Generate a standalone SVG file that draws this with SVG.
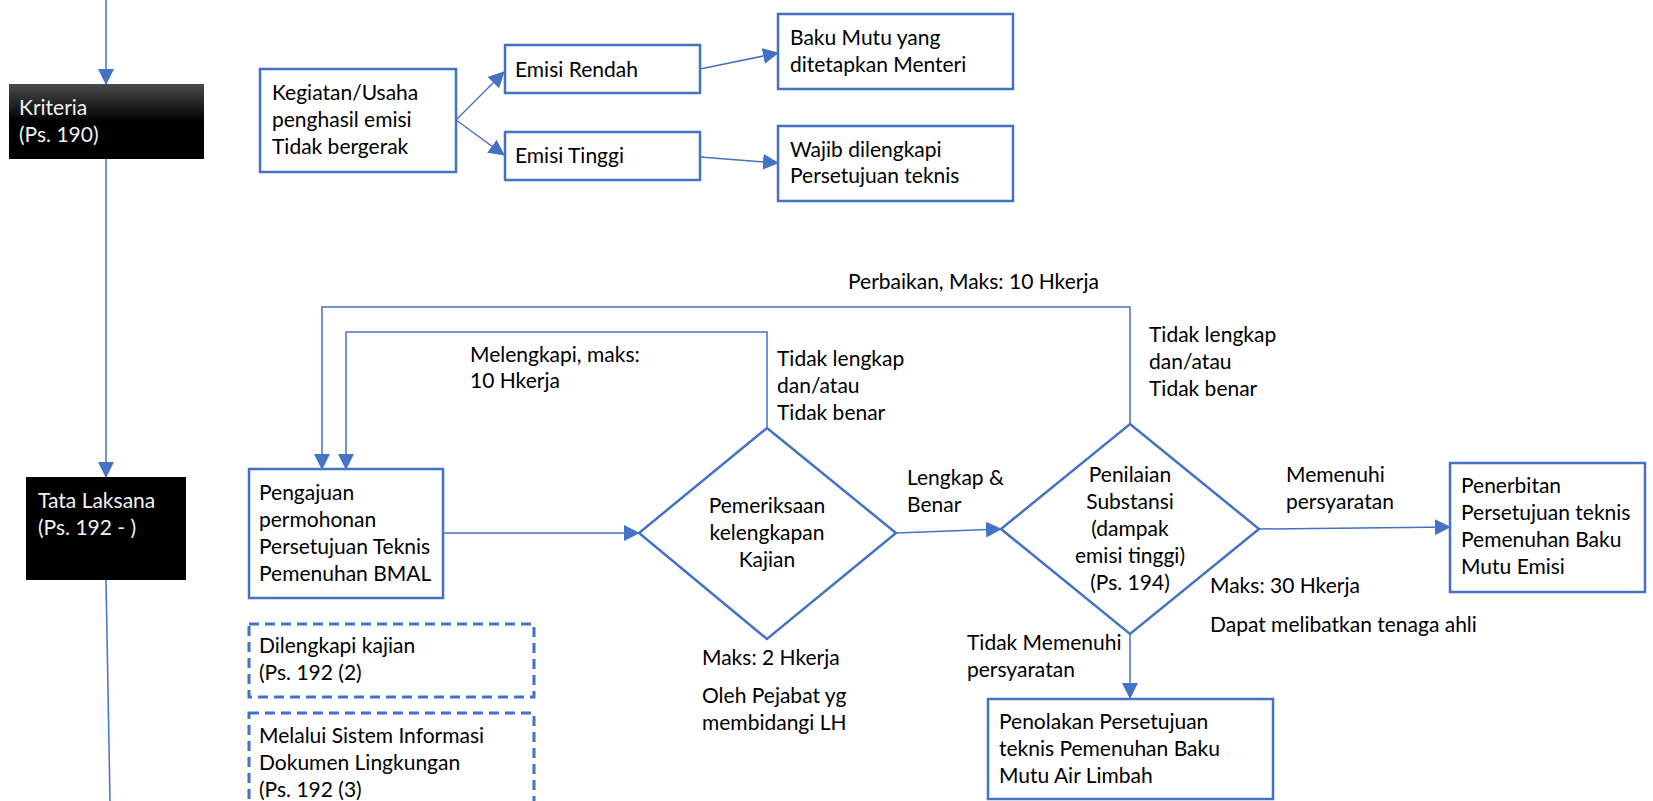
<svg xmlns="http://www.w3.org/2000/svg" width="1653" height="801" viewBox="0 0 1653 801">
<style>
  text { font-family: Lato, "Open Sans", sans-serif; font-size: 21px; fill: #000; }
  .w { fill: #f2f2f2; }
  .mid { text-anchor: middle; }
  .box { fill: #fff; stroke: #4472C4; stroke-width: 2.5; }
  .dash { fill: #fff; stroke: #4472C4; stroke-width: 3; stroke-dasharray: 10 6; }
  .con { fill: none; stroke: #4472C4; stroke-width: 1.5; }
</style>
<defs>
  <marker id="ah" markerUnits="userSpaceOnUse" markerWidth="16" markerHeight="16" viewBox="0 0 16 16" refX="15" refY="8" orient="auto">
    <path d="M0,0 L16,8 L0,16 Z" fill="#4472C4"/>
  </marker>
  <linearGradient id="blk" x1="0" y1="0" x2="0" y2="1">
    <stop offset="0" stop-color="#4a4a4a"/>
    <stop offset="0.5" stop-color="#000"/>
    <stop offset="1" stop-color="#000"/>
  </linearGradient>
</defs>
<rect width="1653" height="801" fill="#fff"/>

<g id="connectors">
  <line class="con" x1="106" y1="0" x2="106" y2="84" marker-end="url(#ah)"/>
  <line class="con" x1="106" y1="158" x2="106" y2="477" marker-end="url(#ah)"/>
  <line class="con" x1="106" y1="580" x2="110" y2="801"/>
  <line class="con" x1="456" y1="120" x2="504" y2="72" marker-end="url(#ah)"/>
  <line class="con" x1="456" y1="120" x2="504" y2="155" marker-end="url(#ah)"/>
  <line class="con" x1="700" y1="69" x2="778" y2="53" marker-end="url(#ah)"/>
  <line class="con" x1="700" y1="157" x2="778" y2="163" marker-end="url(#ah)"/>
  <polyline class="con" points="1130,424 1130,307 322,307 322,469" marker-end="url(#ah)"/>
  <polyline class="con" points="767,428 767,332 346,332 346,469" marker-end="url(#ah)"/>
  <line class="con" x1="443" y1="533" x2="639" y2="533" marker-end="url(#ah)"/>
  <line class="con" x1="896" y1="533" x2="1001" y2="529" marker-end="url(#ah)"/>
  <line class="con" x1="1259" y1="529" x2="1450" y2="527" marker-end="url(#ah)"/>
  <line class="con" x1="1130" y1="634" x2="1130" y2="698" marker-end="url(#ah)"/>
</g>

<g id="kriteria">
  <rect x="9" y="84" width="195" height="75" fill="url(#blk)"/>
  <text class="w" x="19" y="115">Kriteria</text>
  <text class="w" x="19" y="142">(Ps. 190)</text>
</g>
<g id="tata-laksana">
  <rect x="26" y="477" width="160" height="103" fill="#000"/>
  <text class="w" x="38" y="508">Tata Laksana</text>
  <text class="w" x="38" y="535">(Ps. 192 - )</text>
</g>

<g id="kegiatan">
  <rect class="box" x="260" y="69" width="196" height="103"/>
  <text x="272" y="100">Kegiatan/Usaha</text>
  <text x="272" y="127">penghasil emisi</text>
  <text x="272" y="154">Tidak bergerak</text>
</g>
<g id="emisi-rendah">
  <rect class="box" x="505" y="45" width="195" height="48"/>
  <text x="515" y="77">Emisi Rendah</text>
</g>
<g id="emisi-tinggi">
  <rect class="box" x="505" y="132" width="195" height="48"/>
  <text x="515" y="163">Emisi Tinggi</text>
</g>
<g id="baku-mutu">
  <rect class="box" x="778" y="14" width="235" height="75"/>
  <text x="790" y="45">Baku Mutu yang</text>
  <text x="790" y="72">ditetapkan Menteri</text>
</g>
<g id="wajib">
  <rect class="box" x="778" y="126" width="235" height="75"/>
  <text x="790" y="157">Wajib dilengkapi</text>
  <text x="790" y="183">Persetujuan teknis</text>
</g>

<g id="labels">
  <text x="848" y="289">Perbaikan, Maks: 10 Hkerja</text>
  <text x="470" y="362">Melengkapi, maks:</text>
  <text x="470" y="388">10 Hkerja</text>
  <text x="777" y="366">Tidak lengkap</text>
  <text x="777" y="393">dan/atau</text>
  <text x="777" y="420">Tidak benar</text>
  <text x="1149" y="342">Tidak lengkap</text>
  <text x="1149" y="369">dan/atau</text>
  <text x="1149" y="396">Tidak benar</text>
  <text x="907" y="485">Lengkap &amp;</text>
  <text x="907" y="512">Benar</text>
  <text x="1286" y="482">Memenuhi</text>
  <text x="1286" y="509">persyaratan</text>
  <text x="1210" y="593">Maks: 30 Hkerja</text>
  <text x="1210" y="632">Dapat melibatkan tenaga ahli</text>
  <text x="967" y="650">Tidak Memenuhi</text>
  <text x="967" y="677">persyaratan</text>
  <text x="702" y="665">Maks: 2 Hkerja</text>
  <text x="702" y="703">Oleh Pejabat yg</text>
  <text x="702" y="730">membidangi LH</text>
</g>

<g id="pengajuan">
  <rect class="box" x="249" y="469" width="194" height="129"/>
  <text x="259" y="500">Pengajuan</text>
  <text x="259" y="527">permohonan</text>
  <text x="259" y="554">Persetujuan Teknis</text>
  <text x="259" y="581">Pemenuhan BMAL</text>
</g>
<g id="pemeriksaan">
  <polygon class="box" points="767,428 896,533 767,639 639,533"/>
  <text class="mid" x="767" y="513">Pemeriksaan</text>
  <text class="mid" x="767" y="540">kelengkapan</text>
  <text class="mid" x="767" y="567">Kajian</text>
</g>
<g id="penilaian">
  <polygon class="box" points="1130,424 1259,529 1130,634 1001,529"/>
  <text class="mid" x="1130" y="482">Penilaian</text>
  <text class="mid" x="1130" y="509">Substansi</text>
  <text class="mid" x="1130" y="536">(dampak</text>
  <text class="mid" x="1130" y="563">emisi tinggi)</text>
  <text class="mid" x="1130" y="590">(Ps. 194)</text>
</g>
<g id="penerbitan">
  <rect class="box" x="1450" y="463" width="195" height="129"/>
  <text x="1461" y="493">Penerbitan</text>
  <text x="1461" y="520">Persetujuan teknis</text>
  <text x="1461" y="547">Pemenuhan Baku</text>
  <text x="1461" y="574">Mutu Emisi</text>
</g>
<g id="penolakan">
  <rect class="box" x="988" y="699" width="285" height="100"/>
  <text x="999" y="729">Penolakan Persetujuan</text>
  <text x="999" y="756">teknis Pemenuhan Baku</text>
  <text x="999" y="783">Mutu Air Limbah</text>
</g>
<g id="dilengkapi">
  <rect class="dash" x="249" y="624" width="285" height="73"/>
  <text x="259" y="653">Dilengkapi kajian</text>
  <text x="259" y="680">(Ps. 192 (2)</text>
</g>
<g id="melalui">
  <rect class="dash" x="249" y="713" width="285" height="110"/>
  <text x="259" y="743">Melalui Sistem Informasi</text>
  <text x="259" y="770">Dokumen Lingkungan</text>
  <text x="259" y="797">(Ps. 192 (3)</text>
</g>
</svg>
